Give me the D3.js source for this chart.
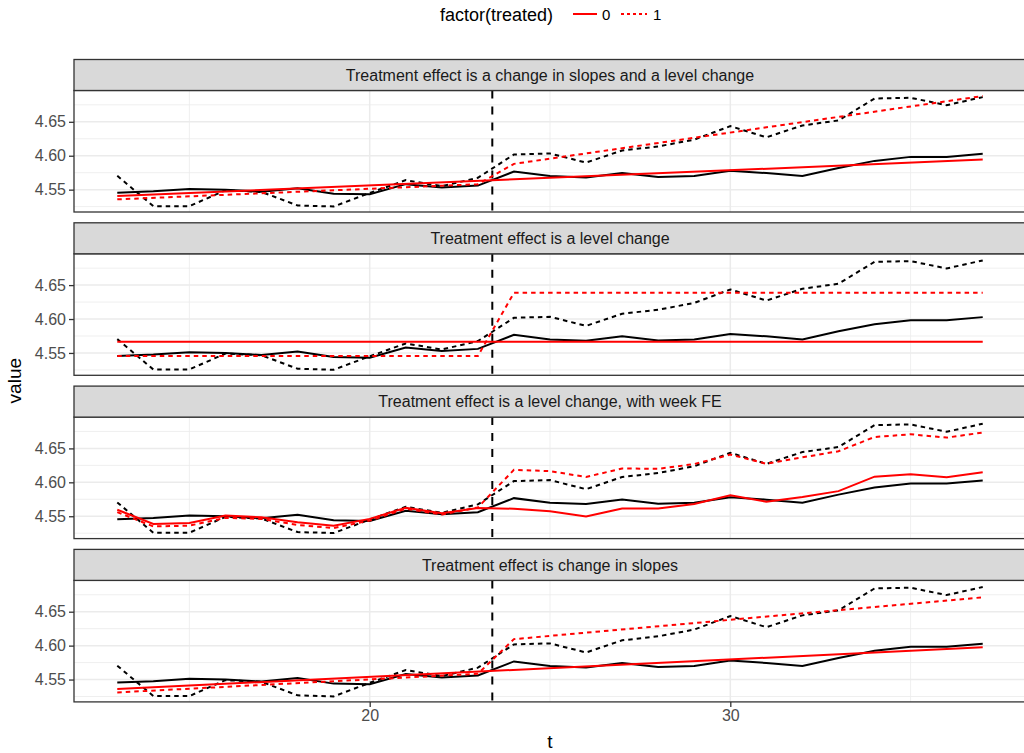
<!DOCTYPE html>
<html>
<head>
<meta charset="utf-8">
<script src="https://cdn.jsdelivr.net/npm/d3@7"></script>
<style>
  body { margin: 0; background: #fff; }
  svg { display: block; font-family: "Liberation Sans", Arial, sans-serif; }
</style>
</head>
<body>
<div id="chart"></div>
<script>
// time index
const tValues = [13, 14, 15, 16, 17, 18, 19, 20, 21, 22, 23, 24, 25,
                 26, 27, 28, 29, 30, 31, 32, 33, 34, 35, 36, 37]

// observed series (same in every panel)
const controlObs = [4.5456, 4.5476, 4.5510, 4.5500, 4.5470, 4.5521, 4.5440, 4.5431, 4.5581, 4.5530, 4.5560, 4.5767,
                    4.5700, 4.5679, 4.5745, 4.5685, 4.5700, 4.5779, 4.5745, 4.5700, 4.5819, 4.5924, 4.5983, 4.5983, 4.6028]
const treatedObs = [4.5704, 4.5257, 4.5257, 4.5491, 4.5466, 4.5267, 4.5252, 4.5451, 4.5640, 4.5551, 4.5675, 4.6018,
                    4.6033, 4.5899, 4.6078, 4.6137, 4.6237, 4.6436, 4.6272, 4.6446, 4.6520, 4.6843, 4.6854, 4.6745, 4.6864]

const panelTitles = [
  'Treatment effect is a change in slopes and a level change',
  'Treatment effect is a level change',
  'Treatment effect is a level change, with week FE',
  'Treatment effect is change in slopes'
]

// fitted lines, breakpoints
const fit1Control = { t: [13, 37], v: [4.5406, 4.5943] }
const fit1Treated = { t: [13, 23, 24, 37], v: [4.5357, 4.5580, 4.5880, 4.6880] }
const fit2Control = { t: [13, 37], v: [4.5665, 4.5665] }
const fit2Treated = { t: [13, 23, 24, 37], v: [4.5455, 4.5455, 4.6386, 4.6386] }
const fit3Control = { t: tValues, v: [4.5596, 4.5386, 4.5401, 4.5510, 4.5485, 4.5410, 4.5361, 4.5461, 4.5626, 4.5545, 4.5620, 4.5611,
                                      4.5575, 4.5496, 4.5615, 4.5615, 4.5680, 4.5810, 4.5715, 4.5785, 4.5870, 4.6084, 4.6120, 4.6075, 4.6150] }
const fit3Treated = { t: tValues, v: [4.5560, 4.5350, 4.5361, 4.5476, 4.5461, 4.5371, 4.5326, 4.5436, 4.5611, 4.5525, 4.5630, 4.6184,
                                      4.6165, 4.6079, 4.6204, 4.6199, 4.6269, 4.6409, 4.6274, 4.6368, 4.6458, 4.6668, 4.6708, 4.6659, 4.6734] }
const fit4Control = { t: [13, 37], v: [4.5360, 4.5976] }
const fit4Treated = { t: [13, 23, 24, 37], v: [4.5310, 4.5585, 4.6096, 4.6712] }

const fitsControl = [fit1Control, fit2Control, fit3Control, fit4Control]
const fitsTreated = [fit1Treated, fit2Treated, fit3Treated, fit4Treated]

const treatmentLine = 23.4
const yTicks = [4.55, 4.60, 4.65]
const yMinor = [4.525, 4.575, 4.625, 4.675]
const xTicks = [20, 30]
const xMinor = [15, 25, 35]

// dimensions
const dims = { width: 1024, height: 753 }
const panelLeft = 74
const panelRight = 1026
const firstTop = 59.5
const stripH = 31
const panelH = 121.5
const gapH = 10.8

const svg = d3.select('#chart')
  .append('svg')
  .attr('width', dims.width)
  .attr('height', dims.height)

// scales (5% expansion like ggplot)
const xExt = d3.extent(tValues)
const xPad = (xExt[1] - xExt[0]) * 0.05
const xScale = d3.scaleLinear()
  .domain([xExt[0] - xPad, xExt[1] + xPad])
  .range([panelLeft, panelRight])

const allVals = controlObs.concat(treatedObs)
fitsControl.concat(fitsTreated).forEach(f => f.v.forEach(v => allVals.push(v)))
const yExt = d3.extent(allVals)
const yPad = (yExt[1] - yExt[0]) * 0.05

const line = (ys) => d3.line()
  .x(d => xScale(d[0]))
  .y(d => ys(d[1]))

const zip = (t, v) => t.map((d, i) => [d, v[i]])

const lw = 2
const dash22 = '4.5,4'

panelTitles.forEach((title, i) => {
  const top = firstTop + i * (stripH + panelH + gapH)
  const pTop = top + stripH
  const yScale = d3.scaleLinear()
    .domain([yExt[0] - yPad, yExt[1] + yPad])
    .range([pTop + panelH, pTop])

  const g = svg.append('g')

  // grid
  g.selectAll('.ymin').data(yMinor).join('line')
    .attr('x1', panelLeft).attr('x2', panelRight)
    .attr('y1', d => yScale(d)).attr('y2', d => yScale(d))
    .attr('stroke', '#ebebeb').attr('stroke-width', 0.8)
  g.selectAll('.xmin').data(xMinor).join('line')
    .attr('y1', pTop).attr('y2', pTop + panelH)
    .attr('x1', d => xScale(d)).attr('x2', d => xScale(d))
    .attr('stroke', '#ebebeb').attr('stroke-width', 0.8)
  g.selectAll('.ymaj').data(yTicks).join('line')
    .attr('x1', panelLeft).attr('x2', panelRight)
    .attr('y1', d => yScale(d)).attr('y2', d => yScale(d))
    .attr('stroke', '#ebebeb').attr('stroke-width', 1.5)
  g.selectAll('.xmaj').data(xTicks).join('line')
    .attr('y1', pTop).attr('y2', pTop + panelH)
    .attr('x1', d => xScale(d)).attr('x2', d => xScale(d))
    .attr('stroke', '#ebebeb').attr('stroke-width', 1.5)

  // treatment date
  g.append('line')
    .attr('x1', xScale(treatmentLine)).attr('x2', xScale(treatmentLine))
    .attr('y1', pTop).attr('y2', pTop + panelH)
    .attr('stroke', 'black').attr('stroke-width', lw)
    .attr('stroke-dasharray', '8,8')

  // observed
  g.append('path').datum(zip(tValues, controlObs))
    .attr('d', line(yScale)).attr('fill', 'none')
    .attr('stroke', 'black').attr('stroke-width', lw)
  g.append('path').datum(zip(tValues, treatedObs))
    .attr('d', line(yScale)).attr('fill', 'none')
    .attr('stroke', 'black').attr('stroke-width', lw)
    .attr('stroke-dasharray', dash22)

  // fitted
  g.append('path').datum(zip(fitsControl[i].t, fitsControl[i].v))
    .attr('d', line(yScale)).attr('fill', 'none')
    .attr('stroke', 'red').attr('stroke-width', lw)
  g.append('path').datum(zip(fitsTreated[i].t, fitsTreated[i].v))
    .attr('d', line(yScale)).attr('fill', 'none')
    .attr('stroke', 'red').attr('stroke-width', lw)
    .attr('stroke-dasharray', dash22)

  // panel border
  g.append('rect')
    .attr('x', panelLeft).attr('y', pTop)
    .attr('width', panelRight - panelLeft).attr('height', panelH)
    .attr('fill', 'none').attr('stroke', '#333333').attr('stroke-width', 1.3)

  // strip
  g.append('rect')
    .attr('x', panelLeft).attr('y', top)
    .attr('width', panelRight - panelLeft).attr('height', stripH)
    .attr('fill', '#d9d9d9').attr('stroke', '#333333').attr('stroke-width', 1.3)
  g.append('text')
    .text(title)
    .attr('x', (panelLeft + panelRight) / 2)
    .attr('y', top + stripH / 2)
    .attr('dy', '0.35em')
    .attr('text-anchor', 'middle')
    .attr('fill', '#1a1a1a')
    .style('font-size', '16px')

  // y axis
  const yAxis = d3.axisLeft(yScale).tickValues(yTicks).tickFormat(d3.format('.2f')).tickSize(5).tickPadding(3)
  const ya = g.append('g').attr('transform', `translate(${panelLeft},0)`).call(yAxis)
  ya.select('.domain').remove()
  ya.selectAll('line').attr('stroke', '#333333').attr('stroke-width', 1.3)
  ya.selectAll('text').attr('fill', '#4d4d4d').style('font-size', '16px').style('font-family', 'Liberation Sans, Arial, sans-serif')

  if (i === panelTitles.length - 1) {
    const xAxis = d3.axisBottom(xScale).tickValues(xTicks).tickSize(5).tickPadding(3)
    const xa = g.append('g').attr('transform', `translate(0,${pTop + panelH})`).call(xAxis)
    xa.select('.domain').remove()
    xa.selectAll('line').attr('stroke', '#333333').attr('stroke-width', 1.3)
    xa.selectAll('text').attr('fill', '#4d4d4d').style('font-size', '16px').style('font-family', 'Liberation Sans, Arial, sans-serif')
  }
})

// axis titles
svg.append('text')
  .text('t')
  .attr('x', (panelLeft + panelRight) / 2)
  .attr('y', 748)
  .attr('text-anchor', 'middle')
  .style('font-size', '19px')
svg.append('text')
  .text('value')
  .attr('transform', `translate(21, ${firstTop + (4 * (stripH + panelH) + 3 * gapH) / 2}) rotate(-90)`)
  .attr('text-anchor', 'middle')
  .style('font-size', '19px')

// legend
const legend = svg.append('g')
legend.append('text').text('factor(treated)')
  .attr('x', 440).attr('y', 20.5).style('font-size', '18px')
legend.append('line')
  .attr('x1', 573).attr('x2', 597).attr('y1', 14).attr('y2', 14)
  .attr('stroke', 'red').attr('stroke-width', lw)
legend.append('text').text('0')
  .attr('x', 602).attr('y', 19.5).style('font-size', '15px')
legend.append('line')
  .attr('x1', 621).attr('x2', 647).attr('y1', 14).attr('y2', 14)
  .attr('stroke', 'red').attr('stroke-width', lw).attr('stroke-dasharray', '3,3')
legend.append('text').text('1')
  .attr('x', 653).attr('y', 19.5).style('font-size', '15px')
</script>
</body>
</html>
